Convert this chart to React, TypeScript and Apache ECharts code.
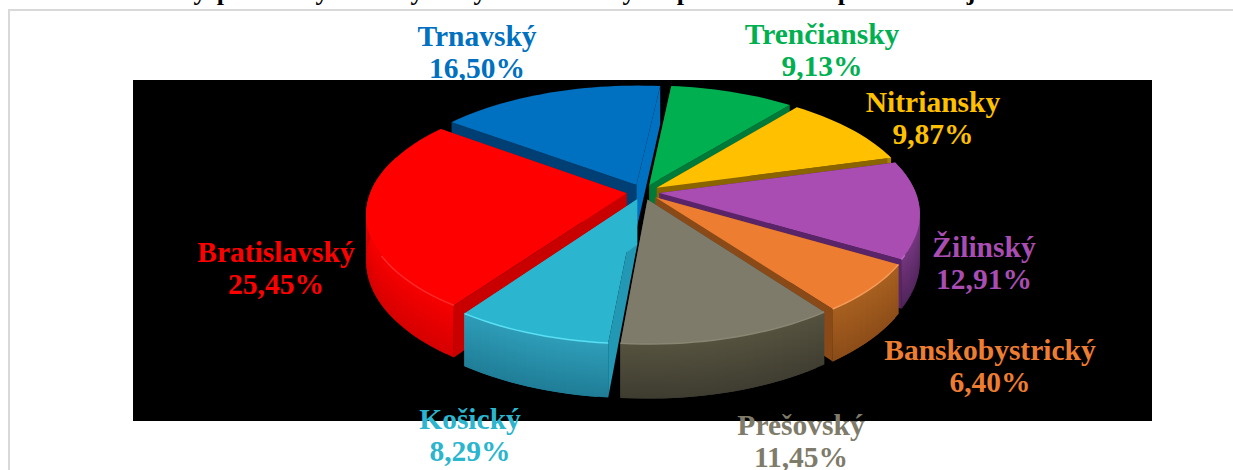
import React, { useEffect, useRef } from "react";
import * as echarts from "echarts";

const categories = ["Bratislavský", "Trnavský", "Trenčiansky", "Nitriansky", "Žilinský", "Banskobystrický", "Prešovský", "Košický"];
const shares = [25.45, 16.5, 9.13, 9.87, 12.91, 6.4, 11.45, 8.29];
const topColors = ["#FF0000", "#0070C0", "#00B050", "#FFC000", "#A94DB3", "#ED7D31", "#7F7B6A", "#2BB5CE"];
const textColors = ["#FF0000", "#0070C0", "#00B050", "#FFC000", "#A94DB3", "#ED7D31", "#7F7B6A", "#2BB5CE"];
const sideColors = ["#C80000", "#003F73", "#007A38", "#8A6400", "#5A2468", "#8A4A18", "#4A483C", "#2398B4"];
const wallTop = ["#FA0000", "#005A9C", "#008A40", "#B08400", "#74367E", "#A8601F", "#55523F", "#2F9FBA"];
const wallBottom = ["#D40000", "#004A80", "#006E32", "#8A6400", "#4E2358", "#8A4B18", "#3E3C30", "#1F7C96"];
const rimColors = ["#FF2A2A", "#1C86D0", "#20C468", "#FFD040", "#BD68C6", "#F59A58", "#8A8674", "#5AE0F4"];
const labelCenters = [[276, 268], [477, 52], [822, 50], [933, 118], [984, 263], [990, 366], [801, 441], [470, 435]];
const titleFragments = [["y", 200], ["p", 224], ["y", 322], ["y", 417], ["y", 480], ["y", 629], ["p", 684], ["p", 845], ["j", 971]];

const START_ANGLE = 215;
const CX = 643, CY = 192, RX = 256, RY = 118, PERSP = 0.165, DEPTH = 45, EXPLODE = 0.065;
const FONT = 'bold 29.5px "Liberation Serif"';

const project = (u: number, v: number, z = 0): number[] => {
  const s = 1 / (1 - PERSP * v);
  return [CX + RX * u * s, CY + RY * v * s + z * s];
};

const rad = (d: number) => (d * Math.PI) / 180;

const sliceAngles = shares.reduce<number[][]>((acc, share) => {
  const from = acc.length ? acc[acc.length - 1][1] : START_ANGLE;
  acc.push([from, from + share * 3.6]);
  return acc;
}, []);

const ranks = sliceAngles
  .map(([a, b], i) => ({ i, d: -Math.cos(rad((a + b) / 2)) }))
  .sort((p, q) => p.d - q.d)
  .reduce<Record<number, number>>((m, e, idx) => { m[e.i] = idx; return m; }, {});

function renderSlice(params: any) {
  const i = params.dataIndex;
  const [a0, a1] = sliceAngles[i];
  const mid = rad((a0 + a1) / 2);
  const ou = EXPLODE * Math.sin(mid), ov = -EXPLODE * Math.cos(mid);
  const at = (r: number, deg: number, z = 0) => project(ou + r * Math.sin(rad(deg)), ov - r * Math.cos(rad(deg)), z);
  const arcDeg: number[] = [];
  const n = Math.max(4, Math.ceil((a1 - a0) / 2));
  for (let k = 0; k <= n; k++) arcDeg.push(a0 + ((a1 - a0) * k) / n);
  const topArc = arcDeg.map((d) => at(1, d));
  const lowArc = arcDeg.map((d) => at(1, d, DEPTH));
  const base = ranks[i] * 10;
  const sideA = [at(0, a0), at(1, a0), at(1, a0, DEPTH), at(0, a0, DEPTH)];
  const sideB = [at(0, a1), at(1, a1), at(1, a1, DEPTH), at(0, a1, DEPTH)];
  const quads = topArc.slice(0, -1).flatMap((p, k) => {
    const midDeg = (arcDeg[k] + arcDeg[k + 1]) / 2;
    if (-Math.cos(rad(midDeg)) < -0.3) return [];
    const next = Math.min(k + 2, topArc.length - 1);
    const grad = new echarts.graphic.LinearGradient(0, 0, 0, 1, [
      { offset: 0, color: wallTop[i] },
      { offset: 1, color: wallBottom[i] },
    ]);
    return [{
      type: "polygon",
      z2: base + 2,
      shape: { points: [p, topArc[next], lowArc[next], lowArc[k]] },
      style: { fill: grad },
    }];
  });
  return {
    type: "group",
    children: [
      { type: "polygon", z2: base, shape: { points: sideA }, style: { fill: sideColors[i] } },
      { type: "polygon", z2: base + 1, shape: { points: sideB }, style: { fill: i === 1 || i === 7 ? topColors[i] : sideColors[i] } },
      ...quads,
      { type: "polygon", z2: base + 3, shape: { points: [at(0, a0), ...topArc] }, style: { fill: topColors[i] } },
      { type: "polyline", z2: base + 4, shape: { points: topArc.filter((p) => p[1] > CY + 60) }, style: { stroke: rimColors[i], lineWidth: 1.5, fill: "none" } },
    ],
  };
}

const pct = (v: number) => v.toFixed(2).replace(".", ",") + "%";

export default function App() {
  const ref = useRef<HTMLDivElement>(null);
  useEffect(() => {
    const chart = echarts.init(ref.current!, undefined, { renderer: "svg" });
    const labels = categories.map((name, i) => ({
      type: "text",
      silent: true,
      z: i === 1 || i === 2 ? 1 : 10,
      x: labelCenters[i][0],
      y: labelCenters[i][1],
      style: {
        text: `${name}\n${pct(shares[i])}`,
        font: FONT,
        fill: textColors[i],
        align: "center",
        verticalAlign: "middle",
        lineHeight: 32,
      },
    }));
    const fragments = titleFragments.map(([ch, x]) => ({
      type: "text",
      silent: true,
      z: 1,
      x: x as number,
      y: -9,
      style: { text: ch as string, font: 'bold 26px "Liberation Serif"', fill: "#000", align: "center", verticalAlign: "middle" },
    }));
    chart.setOption({
      animation: false,
      backgroundColor: "#ffffff",
      graphic: {
        elements: [
          { type: "rect", silent: true, z: 0, shape: { x: 8, y: 9, width: 1225, height: 2 }, style: { fill: "#D9D9D9" } },
          { type: "rect", silent: true, z: 0, shape: { x: 8, y: 9, width: 2, height: 461 }, style: { fill: "#D9D9D9" } },
          ...fragments,
          ...labels,
          { type: "rect", silent: true, z: 2, shape: { x: 133, y: 80, width: 1019, height: 341 }, style: { fill: "#000000" } },
        ],
      },
      series: [
        {
          type: "custom",
          coordinateSystem: "none",
          z: 5,
          silent: true,
          data: shares,
          renderItem: renderSlice,
        },
      ],
    });
    return () => chart.dispose();
  }, []);
  return <div ref={ref} style={{ position: "fixed", left: 0, top: 0, width: 1233, height: 470 }} />;
}
